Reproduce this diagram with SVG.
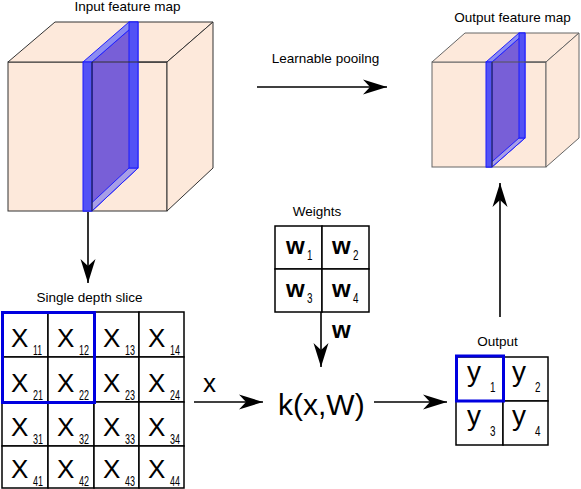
<svg xmlns="http://www.w3.org/2000/svg" width="581" height="489" viewBox="0 0 581 489">
<style>
text{font-family:"Liberation Sans",Arial,sans-serif;fill:#000}
.lbl{font-size:13.5px;text-anchor:middle}
.face{fill:#FDE9DB;stroke:#333;stroke-width:1}
.face2{fill:#FDE9DB;stroke:#666;stroke-width:1}
.sside{fill:#785FD7;stroke:#2020FF;stroke-width:1}
.stop{fill:#8C8CF2;stroke:#2020FF;stroke-width:1}
.sbot{fill:#A79EE6;stroke:#2020FF;stroke-width:1}
.sstrip{fill:#5252F5;stroke:#1A1AFF;stroke-width:1}
.cell{fill:#fff;stroke:#000;stroke-width:1.5}
.hl{fill:none;stroke:#0000E0;stroke-width:3}
.X{font-size:26px}
.sub{font-size:14px}
.w{font-size:24px;font-weight:bold}
.y{font-size:28px}
.conn{stroke:#000;stroke-width:1.6;fill:none;marker-end:url(#ah)}
</style>
<defs>
<marker id="ah" markerUnits="userSpaceOnUse" markerWidth="30" markerHeight="20" viewBox="-25 -10 30 20" refX="0" refY="0" orient="auto">
<path d="M0,0 L-24,-7.5 L-17,0 L-24,7.5 Z" fill="#000"/>
</marker>
</defs>

<g id="input-feature-map">
<text class="lbl" x="127.5" y="11">Input feature map</text>
<rect class="face" x="8" y="62" width="159" height="149"/>
<polygon class="face" points="8,62 55,22 213,22 167,62"/>
<polygon class="face" points="167,62 213,22 213,168 167,211"/>
<polygon class="sside" points="92,62 138,22 138,168 92,211"/>
<polygon class="stop" points="83,62 129,22 138,22 92,62"/>
<polygon class="sbot" points="83,211 129,168 138,168 92,211"/>
<rect class="sstrip" x="129" y="22" width="9" height="146"/>
<rect class="sstrip" x="83" y="62" width="9" height="149"/>
<line x1="92" y1="62" x2="167" y2="62" stroke="#333" stroke-width="1"/>
<line x1="92" y1="62" x2="92" y2="211" stroke="#222" stroke-width="1"/>
</g>

<g id="output-feature-map">
<text class="lbl" x="512.5" y="22">Output feature map</text>
<rect class="face2" x="432" y="62" width="114" height="105"/>
<polygon class="face2" points="432,62 465,33 579,33 546,62"/>
<polygon class="face2" points="546,62 579,33 579,138 546,167"/>
<polygon class="sside" points="492,62 525,33 525,138 492,167"/>
<polygon class="stop" points="486,62 519,33 525,33 492,62"/>
<polygon class="sbot" points="486,167 519,138 525,138 492,167"/>
<rect class="sstrip" x="519" y="33" width="6" height="105"/>
<rect class="sstrip" x="486" y="62" width="6" height="105"/>
<line x1="492" y1="62" x2="546" y2="62" stroke="#555" stroke-width="1"/>
<line x1="492" y1="62" x2="492" y2="167" stroke="#333" stroke-width="1"/>
</g>

<g id="learnable-pooling-label">
<text class="lbl" x="325.5" y="63">Learnable pooilng</text>
</g>

<g id="single-depth-slice">
<text class="lbl" x="89.5" y="302">Single depth slice</text>
<rect class="cell" x="2" y="312" width="46" height="45"/>
<rect class="cell" x="48" y="312" width="46" height="45"/>
<rect class="cell" x="94" y="312" width="45" height="45"/>
<rect class="cell" x="139" y="312" width="45" height="45"/>
<rect class="cell" x="2" y="357" width="46" height="45"/>
<rect class="cell" x="48" y="357" width="46" height="45"/>
<rect class="cell" x="94" y="357" width="45" height="45"/>
<rect class="cell" x="139" y="357" width="45" height="45"/>
<rect class="cell" x="2" y="402" width="46" height="44"/>
<rect class="cell" x="48" y="402" width="46" height="44"/>
<rect class="cell" x="94" y="402" width="45" height="44"/>
<rect class="cell" x="139" y="402" width="45" height="44"/>
<rect class="cell" x="2" y="446" width="46" height="42"/>
<rect class="cell" x="48" y="446" width="46" height="42"/>
<rect class="cell" x="94" y="446" width="45" height="42"/>
<rect class="cell" x="139" y="446" width="45" height="42"/>
<text class="X" x="11" y="347">X</text><text class="sub" x="33" y="355" textLength="9" lengthAdjust="spacingAndGlyphs">11</text>
<text class="X" x="57" y="347">X</text><text class="sub" x="79" y="355" textLength="10" lengthAdjust="spacingAndGlyphs">12</text>
<text class="X" x="103" y="347">X</text><text class="sub" x="125" y="355" textLength="10" lengthAdjust="spacingAndGlyphs">13</text>
<text class="X" x="148" y="347">X</text><text class="sub" x="170" y="355" textLength="10" lengthAdjust="spacingAndGlyphs">14</text>
<text class="X" x="11" y="392">X</text><text class="sub" x="33" y="400" textLength="10" lengthAdjust="spacingAndGlyphs">21</text>
<text class="X" x="57" y="392">X</text><text class="sub" x="79" y="400" textLength="10" lengthAdjust="spacingAndGlyphs">22</text>
<text class="X" x="103" y="392">X</text><text class="sub" x="125" y="400" textLength="10" lengthAdjust="spacingAndGlyphs">23</text>
<text class="X" x="148" y="392">X</text><text class="sub" x="170" y="400" textLength="10" lengthAdjust="spacingAndGlyphs">24</text>
<text class="X" x="11" y="436">X</text><text class="sub" x="33" y="444" textLength="10" lengthAdjust="spacingAndGlyphs">31</text>
<text class="X" x="57" y="436">X</text><text class="sub" x="79" y="444" textLength="10" lengthAdjust="spacingAndGlyphs">32</text>
<text class="X" x="103" y="436">X</text><text class="sub" x="125" y="444" textLength="10" lengthAdjust="spacingAndGlyphs">33</text>
<text class="X" x="148" y="436">X</text><text class="sub" x="170" y="444" textLength="10" lengthAdjust="spacingAndGlyphs">34</text>
<text class="X" x="11" y="478">X</text><text class="sub" x="33" y="486" textLength="10" lengthAdjust="spacingAndGlyphs">41</text>
<text class="X" x="57" y="478">X</text><text class="sub" x="79" y="486" textLength="10" lengthAdjust="spacingAndGlyphs">42</text>
<text class="X" x="103" y="478">X</text><text class="sub" x="125" y="486" textLength="10" lengthAdjust="spacingAndGlyphs">43</text>
<text class="X" x="148" y="478">X</text><text class="sub" x="170" y="486" textLength="10" lengthAdjust="spacingAndGlyphs">44</text>
<rect class="hl" x="2.5" y="312.5" width="92" height="90"/>
</g>

<g id="weights">
<text class="lbl" x="317" y="216">Weights</text>
<rect class="cell" x="275" y="226" width="47" height="43"/>
<rect class="cell" x="322" y="226" width="47" height="43"/>
<rect class="cell" x="275" y="269" width="47" height="43"/>
<rect class="cell" x="322" y="269" width="47" height="43"/>
<text class="w" x="286" y="254">w</text><text class="sub" x="307" y="260" textLength="5.5" lengthAdjust="spacingAndGlyphs">1</text>
<text class="w" x="332" y="254">w</text><text class="sub" x="353" y="260" textLength="5.5" lengthAdjust="spacingAndGlyphs">2</text>
<text class="w" x="286" y="297">w</text><text class="sub" x="307" y="303" textLength="5.5" lengthAdjust="spacingAndGlyphs">3</text>
<text class="w" x="332" y="297">w</text><text class="sub" x="353" y="303" textLength="5.5" lengthAdjust="spacingAndGlyphs">4</text>
</g>

<g id="kernel">
<text x="278" y="415" style="font-size:30px">k(x,W)</text>
</g>

<g id="output">
<text class="lbl" x="497.5" y="346">Output</text>
<rect class="cell" x="456" y="357" width="47" height="44"/>
<rect class="cell" x="503" y="357" width="45" height="44"/>
<rect class="cell" x="456" y="401" width="47" height="44"/>
<rect class="cell" x="503" y="401" width="45" height="44"/>
<text class="y" x="467" y="381">y</text><text class="sub" x="490" y="392" textLength="5.5" lengthAdjust="spacingAndGlyphs">1</text>
<text class="y" x="512" y="381">y</text><text class="sub" x="535" y="392" textLength="5.5" lengthAdjust="spacingAndGlyphs">2</text>
<text class="y" x="467" y="425">y</text><text class="sub" x="490" y="436" textLength="5.5" lengthAdjust="spacingAndGlyphs">3</text>
<text class="y" x="512" y="425">y</text><text class="sub" x="535" y="436" textLength="5.5" lengthAdjust="spacingAndGlyphs">4</text>
<rect class="hl" x="456.5" y="356" width="47" height="45"/>
</g>

<g id="connectors">
<line class="conn" x1="257" y1="87" x2="387" y2="87"/>
<line class="conn" x1="88" y1="212" x2="88" y2="283"/>
<line class="conn" x1="321" y1="312" x2="321" y2="367"/>
<line class="conn" x1="194" y1="402" x2="263" y2="402"/>
<line class="conn" x1="374" y1="402" x2="447" y2="402"/>
<line class="conn" x1="500" y1="317" x2="500" y2="183"/>
<text x="203" y="392" style="font-size:26px">x</text>
<text class="w" x="332" y="338">w</text>
</g>
</svg>
